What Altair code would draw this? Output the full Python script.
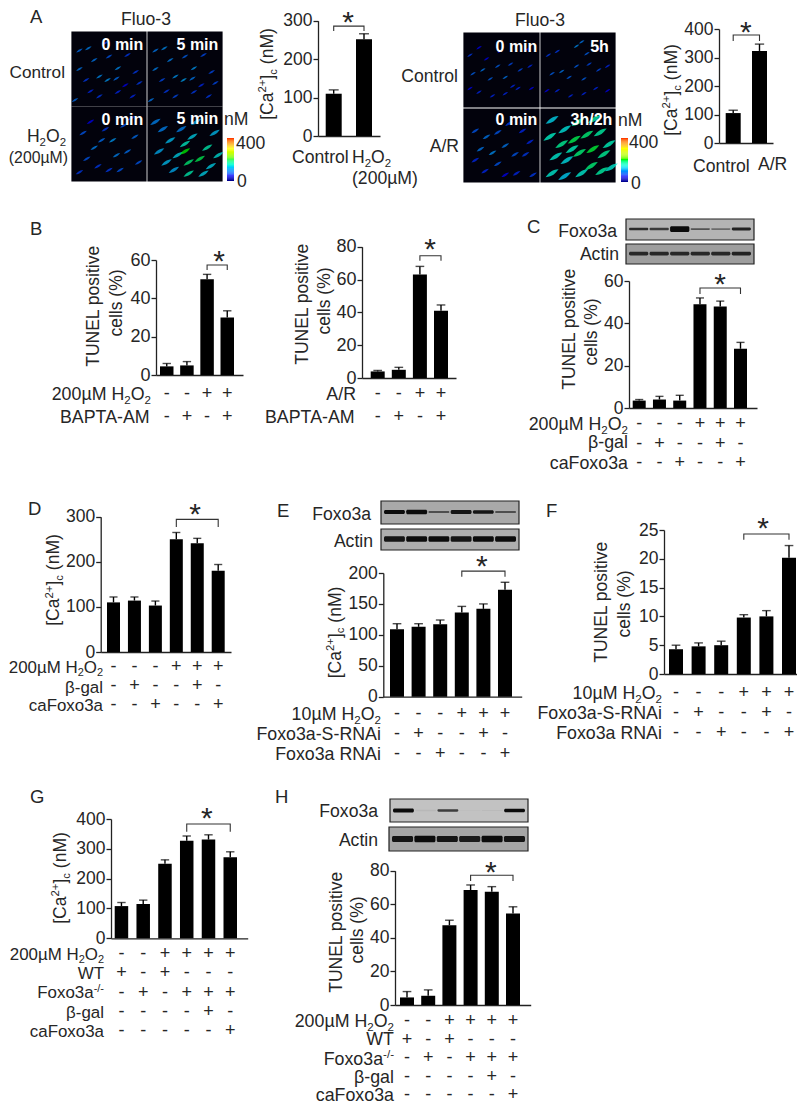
import altair as alt
import pandas as pd

H = 1096
FONT = "Liberation Sans"
INK = "#262626"

# ---------------- data ----------------
A1_vals, A1_errs = [110, 252], [120, 266]
A2_vals, A2_errs = [105, 323], [115, 347]
B1_vals, B1_errs = [4.5, 5, 50, 30], [6, 7, 52.5, 33.5]
B2_vals, B2_errs = [4, 5, 63, 41], [4.6, 6.5, 68, 44.5]
C_vals, C_errs = [3.5, 4, 3.5, 49, 48, 28], [4, 5.5, 6, 52, 50.5, 31]
D_vals, D_errs = [110, 114, 103, 250, 241, 180], [122, 122, 113, 265, 252, 194]
E_vals, E_errs = [109, 113, 117, 136, 142, 173], [118, 118, 124, 146, 150, 185]
F_vals, F_errs = [4.3, 4.8, 5, 9.8, 10, 20.2], [5, 5.4, 5.7, 10.3, 11, 22.3]
G_vals, G_errs = [108, 115, 250, 327, 331, 272], [120, 128, 263, 343, 347, 290]
H_vals, H_errs = [4.5, 5.5, 47.5, 68.5, 67.5, 54.5], [8, 9, 50.5, 71.5, 70.5, 58.5]

H2O2_200 = [("200µM H", "n"), ("2", "sub"), ("O", "n"), ("2", "sub")]
H2O2_10 = [("10µM H", "n"), ("2", "sub"), ("O", "n"), ("2", "sub")]
KO = [("Foxo3a", "n"), ("-/-", "sup")]
CA = [("[Ca", "n"), ("2+", "sup"), ("]", "n"), ("c", "sub"), (" (nM)", "n")]

# fluorescence of cells: (x %, y %, nM)
ctrl_0 = [(10,25,80),(22,22,90),(30,38,85),(50,33,70),(10,50,85),(37,60,95),(48,65,100),(62,49,95),(60,63,80),(19,65,60),(37,87,60),(4,92,80),(82,87,55),(86,54,60),(75,31,60),(91,69,60),(62,81,55),(45,15,60),(72,72,50),(25,80,55)]
ctrl_5 = [(10,25,85),(22,22,95),(30,38,90),(50,33,75),(10,50,90),(37,60,100),(48,65,105),(62,49,100),(60,63,85),(19,65,65),(37,87,65),(4,92,85),(82,87,60),(86,54,65),(75,31,65),(91,69,65),(62,81,60),(45,15,65),(72,72,55),(25,80,60)]
h2o2_0 = [(15,35,70),(30,55,90),(20,70,70),(45,30,60),(55,45,100),(60,65,90),(70,25,70),(85,40,80),(35,80,60),(10,88,60),(50,85,60),(75,60,80),(90,75,70),(40,45,80),(65,85,70),(25,20,50),(80,15,60)]
h2o2_5 = [(20,30,90),(15,60,110),(30,45,120),(40,65,130),(50,50,150),(55,75,180),(60,40,130),(70,70,190),(80,55,160),(90,35,120),(35,85,110),(75,90,130),(25,75,120),(85,80,130),(45,30,90),(65,20,110),(95,65,140),(10,20,90),(55,90,160),(50,60,200)]
ar_c0 = [(8,30,60),(20,20,50),(12,55,75),(25,50,85),(35,62,75),(45,45,75),(55,60,85),(62,42,65),(75,50,65),(88,45,55),(20,80,55),(38,85,55),(55,82,55),(72,75,55),(90,75,50),(30,35,50),(48,25,40),(85,22,40),(65,72,55),(8,75,50)]
ar_c5 = [(10,30,60),(22,25,60),(15,55,75),(28,52,85),(38,60,75),(48,45,75),(58,62,75),(65,42,65),(78,50,65),(90,45,55),(22,78,55),(40,85,55),(58,82,55),(74,75,55),(90,78,50),(48,18,95),(55,12,85),(62,28,75),(78,22,55),(8,78,50)]
ar_t0 = [(15,30,70),(30,38,85),(45,32,70),(60,20,60),(78,30,55),(88,45,55),(22,55,85),(38,60,95),(55,50,85),(68,62,70),(82,62,60),(45,75,70),(15,70,55),(28,85,55),(92,90,60),(70,88,55),(55,90,50)]
ar_t5 = [(15,15,130),(32,28,140),(50,18,170),(72,14,160),(12,38,150),(28,48,170),(45,42,190),(62,35,180),(80,32,165),(92,48,155),(20,65,145),(35,70,135),(52,60,180),(70,55,195),(85,62,170),(15,88,145),(32,92,125),(68,78,180),(82,85,165),(95,80,145),(55,88,145),(42,55,155)]

colorbar_steps = list(range(0, 400, 10))
fluo_colors = ["#000090", "#0000ff", "#00a0ff", "#00ffd0", "#00ff00", "#c0ff00", "#ffff00", "#ff9000", "#ff0000"]

# western blot lanes: darkness 0-1 and band thickness in % of box height
C_foxo_dark, C_foxo_thick = [.8,.7,1,.55,.4,.85], [12,12,28,9,9,14]
C_actin_dark, C_actin_thick = [.8,.8,.8,.8,.8,.85], [18,18,18,18,18,18]
E_foxo_dark, E_foxo_thick = [1,1,.55,.95,.95,.55], [18,20,9,17,15,9]
E_actin_dark, E_actin_thick = [.95,1,1,.95,1,1], [26,26,26,26,26,26]
H_foxo_dark, H_foxo_thick = [1,.05,.7,.02,.04,1], [17,6,10,4,4,16]
H_actin_dark, H_actin_thick = [.95,1,.95,.9,1,.95], [24,28,26,24,28,26]

SPINDLE = "M -1 0.6 C -0.45 -0.1 -0.1 -0.5 1 -0.6 C 0.45 0.1 0.1 0.5 -1 0.6 Z"

# ---------------- text helpers ----------------
W = {' ':278,'A':667,'B':667,'C':722,'E':667,'F':611,'G':778,'H':722,'I':278,'L':556,'M':833,'N':722,'O':778,'P':667,'R':722,'S':667,'T':611,'U':722,'W':944,
     'a':556,'c':500,'e':556,'f':278,'g':556,'h':556,'i':222,'l':222,'m':833,'n':556,'o':556,'p':556,'r':333,'s':500,'t':278,'v':500,'x':500,
     'µ':576,'β':576,'-':333,'+':584,'/':278,'(':333,')':333,'[':278,']':278,'%':889}
def tw(s, size):
    return sum(W.get(c, 556) for c in s) * size / 1000

texts, bold_texts = [], []

def put(s, x, y, size=17, angle=0, color=INK, bold=False):
    (bold_texts if bold else texts).append(dict(t=s, x=x - 8, y=y - 8, s=size, a=angle, c=color))

def rich(parts, x, y, anchor="left", size=17.6, angle=0):
    """x,y in image pixels: the baseline anchor of a run of text."""
    if isinstance(parts, str):
        parts = [(parts, "n")]
    widths = []
    for s, k in parts:
        widths.append(tw(s, size * (0.65 if k != "n" else 1)))
    total = sum(widths)
    adv = {"left": 0, "center": -total / 2, "right": -total}[anchor]
    for (s, k), w in zip(parts, widths):
        fs = size * (0.65 if k != "n" else 1)
        dy = {"n": 0, "sub": 0.2 * size, "sup": -0.38 * size}[k]
        lead = tw(s[:len(s) - len(s.lstrip())], fs)
        a = adv + lead
        if angle == 270:
            put(s.strip(), x + dy, y - a, fs, 270)
        else:
            put(s.strip(), x + a, y + dy, fs, 0)
        adv += w

frames = []
def frame(x0, x1, y0, y1, fill, stroke="#222222"):
    frames.append(dict(x=x0 - 8, x2=x1 - 8, y=y0 - 8, y2=y1 - 8, f=fill, st=stroke))

# ---------------- panels ----------------
def bar_panel(vals, errs, x0, xend, b0, b1, w, y0, ytop, ymax, ticks, bracket, rows=None, row_right=None, tick_size=17.5, row_size=17.8):
    n = len(vals)
    cats = [str(i) for i in range(n)]
    step = (b1 - b0 - w) / (n - 1)
    gap = (xend - x0) - (b1 - b0)
    xs = alt.Scale(type="band", domain=cats, range=[x0 - 8, xend - 8],
                   paddingInner=1 - w / step, paddingOuter=gap / (2 * step), align=(b0 - x0) / gap)
    ys = alt.Scale(domain=[0, ymax], range=[y0 - 8, ytop - 8], nice=False, zero=True)
    df = pd.DataFrame(dict(cat=cats, v=vals, e=errs))
    xaxis = alt.Axis(orient="bottom", offset=-(H - (y0 - 8)), labels=False, ticks=False, title=None, grid=False,
                     domainColor="#222222", domainWidth=1.3)
    yaxis = alt.Axis(orient="left", offset=-(x0 - 8), values=ticks, grid=False, title=None, format="d",
                     labelFont=FONT, labelFontSize=tick_size, labelColor=INK, labelPadding=1,
                     tickSize=5, tickColor="#222222", tickWidth=1.3, domainColor="#222222", domainWidth=1.3)
    xa = alt.X("cat:N", scale=xs, axis=xaxis, title=None)
    ya = alt.Y("v:Q", scale=ys, axis=yaxis, title=None)
    bars = alt.Chart(df).mark_bar(color="black").encode(x=xa, y=ya)
    stems = alt.Chart(df).mark_rule(color="black", strokeWidth=1.4).encode(x=xa, y=ya, y2="e:Q")
    caps = alt.Chart(df).mark_tick(color="black", size=w * 0.62, thickness=1.4).encode(
        x=xa, y=alt.Y("e:Q", scale=ys, axis=yaxis, title=None))
    i, j, top, drop = bracket
    bdf = pd.DataFrame(dict(cat=[cats[i], cats[i], cats[j], cats[j]], v=[drop, top, top, drop], o=[0, 1, 2, 3]))
    br = alt.Chart(bdf).mark_line(color="#333333", strokeWidth=1.1).encode(x=xa, y=ya, order="o:Q")
    inner = alt.layer(bars, stems, caps, br)
    if not rows:
        return inner
    ylist = [r[1] for r in rows]
    names = [str(k) for k in range(len(rows))]
    sdf = pd.DataFrame([dict(cat=cats[c], row=names[k], t=ch)
                        for k, r in enumerate(rows) for c, ch in enumerate(r[2])])
    for r in rows:
        rich(r[0], row_right, r[1] + 6, "right", row_size)
    signs = alt.Chart(sdf).mark_text(font=FONT, fontSize=18, color=INK, baseline="middle").encode(
        x=xa,
        y=alt.Y("row:O", axis=None, title=None,
                scale=alt.Scale(type="point", domain=names, range=[ylist[0] - 8, ylist[-1] - 8], padding=0)),
        text="t:N")
    return alt.layer(inner, signs).resolve_scale(y="independent")


def image_panel(cells, x0, x1, y0, y1, size, opacity=0.7):
    frame(x0, x1, y0, y1, "#02020c", "#02020c")
    df = pd.DataFrame(cells, columns=["x", "y", "v"])
    return alt.Chart(df).mark_point(filled=True, size=size, opacity=opacity, strokeWidth=0, shape=SPINDLE).encode(
        x=alt.X("x:Q", axis=None, scale=alt.Scale(domain=[0, 100], range=[x0 - 8, x1 - 8], nice=False)),
        y=alt.Y("y:Q", axis=None, scale=alt.Scale(domain=[0, 100], range=[y0 - 8, y1 - 8], nice=False)),
        color=alt.Color("v:Q", legend=None, scale=alt.Scale(domain=[0, 400], range=fluo_colors)),
    )


def colorbar(x0, x1, y0, y1):
    df = pd.DataFrame(dict(lo=colorbar_steps, hi=[c + 10 for c in colorbar_steps]))
    ys = alt.Scale(domain=[0, 400], range=[y0 - 8, y1 - 8], nice=False)
    return alt.Chart(df).mark_rect().encode(
        x=alt.value(x0 - 8), x2=alt.value(x1 - 8),
        y=alt.Y("lo:Q", axis=None, scale=ys), y2="hi:Q",
        color=alt.Color("lo:Q", legend=None, scale=alt.Scale(domain=[0, 400], range=fluo_colors)),
    )


def blot(dark, thick, x0, x1, y0, y1, fill, center=48):
    frame(x0, x1, y0, y1, fill)
    lanes = [str(i) for i in range(6)]
    df = pd.DataFrame(dict(l=lanes, d=dark, a=[center - t / 2 for t in thick], b=[center + t / 2 for t in thick]))
    return alt.Chart(df).mark_rect(cornerRadius=1.5).encode(
        x=alt.X("l:N", axis=None, scale=alt.Scale(type="band", domain=lanes, range=[x0 - 8 + 3, x1 - 8 - 3], paddingInner=0.06, paddingOuter=0)),
        y=alt.Y("a:Q", axis=None, scale=alt.Scale(domain=[0, 100], range=[y0 - 8, y1 - 8], nice=False)),
        y2="b:Q",
        color=alt.Color("d:Q", legend=None, scale=alt.Scale(domain=[0, 1], range=[fill, "#0c0c0c"])),
    )


panels = []
# A
panels += [image_panel(ctrl_0, 72, 146, 32, 106, 45), image_panel(ctrl_5, 148, 222, 32, 106, 45),
           image_panel(h2o2_0, 72, 146, 107, 181, 55), image_panel(h2o2_5, 148, 222, 107, 181, 110),
           image_panel(ar_c0, 464, 539, 33, 107, 32), image_panel(ar_c5, 541, 615, 33, 107, 32),
           image_panel(ar_t0, 464, 539, 109, 182, 60), image_panel(ar_t5, 541, 615, 109, 182, 170, 0.75),
           colorbar(227, 234, 181, 138), colorbar(621, 628, 182, 138)]
panels.append(bar_panel(A1_vals, A1_errs, 318, 380, 325.7, 372, 16, 136, 20.7, 300, [0, 100, 200, 300], (0, 1, 286, 273)))
panels.append(bar_panel(A2_vals, A2_errs, 719, 773, 725.7, 767, 15, 143, 29, 400, [0, 100, 200, 300, 400], (0, 1, 379, 358)))
# B
panels.append(bar_panel(B1_vals, B1_errs, 156, 243, 160, 234, 13.5, 375, 260, 60, [0, 20, 40, 60], (2, 3, 57.4, 54.8),
    [(H2O2_200, 394, "--++"), ("BAPTA-AM", 417, "-+-+")], 151, 18))
panels.append(bar_panel(B2_vals, B2_errs, 362, 456, 370.7, 448, 14, 378, 246.7, 80, [0, 20, 40, 60, 80], (2, 3, 74.5, 71.5),
    [("A/R", 394, "--++"), ("BAPTA-AM", 417, "-+-+")], 356, 18))
# C
panels.append(blot(C_foxo_dark, C_foxo_thick, 626, 754, 219, 240, "#b4b4b4"))
panels.append(blot(C_actin_dark, C_actin_thick, 626, 754, 244, 264, "#9e9e9e"))
panels.append(bar_panel(C_vals, C_errs, 629, 757, 632.7, 747, 13, 408, 281, 60, [0, 20, 40, 60], (3, 5, 56.7, 53.9),
    [(H2O2_200, 424, "---+++"), ("β-gal", 442, "-+--+-"), ("caFoxo3a", 463, "--+--+")], 628))
# D
panels.append(bar_panel(D_vals, D_errs, 100.7, 231, 107, 224.7, 13, 652, 516.7, 300, [0, 100, 200, 300], (3, 5, 294, 277),
    [(H2O2_200, 667, "---+++"), ("β-gal", 687, "-+--+-"), ("caFoxo3a", 705, "--+--+")], 103, 17.5, 16.9))
# E
panels.append(blot(E_foxo_dark, E_foxo_thick, 381, 519, 501, 524, "#a9a9a9"))
panels.append(blot(E_actin_dark, E_actin_thick, 381, 519, 529, 550, "#aeaeae"))
panels.append(bar_panel(E_vals, E_errs, 383.3, 521.7, 390, 512, 14, 696.7, 573, 200, [0, 50, 100, 150, 200], (3, 5, 203, 194),
    [(H2O2_10, 714, "---+++"), ("Foxo3a-S-RNAi", 734, "-+--+-"), ("Foxo3a RNAi", 754, "--+--+")], 381))
# F
panels.append(bar_panel(F_vals, F_errs, 664, 797, 669, 796, 14, 674, 530, 25, [0, 5, 10, 15, 20, 25], (3, 5, 24.3, 23.3),
    [(H2O2_10, 693, "---+++"), ("Foxo3a-S-RNAi", 713, "-+--+-"), ("Foxo3a RNAi", 733, "--+--+")], 662))
# G
panels.append(bar_panel(G_vals, G_errs, 111, 247.7, 114.7, 237, 13.5, 938.3, 819, 400, [0, 100, 200, 300, 400], (3, 5, 383, 357),
    [(H2O2_200, 954, "--++++"), ("WT", 973, "+-+---"), (KO, 992, "-+-+++"), ("β-gal", 1012, "----+-"), ("caFoxo3a", 1031, "-----+")], 104, 17.5, 16.9))
# H
panels.append(blot(H_foxo_dark, H_foxo_thick, 390, 528, 799, 822, "#c2c2c2", 50))
panels.append(blot(H_actin_dark, H_actin_thick, 389, 528, 827, 851, "#a6a6a6", 50))
panels.append(bar_panel(H_vals, H_errs, 395, 530.7, 400, 520, 14, 1005, 870.7, 80, [0, 20, 40, 60, 80], (3, 5, 77.3, 73.9),
    [(H2O2_200, 1021, "--++++"), ("WT", 1039, "+-+---"), (KO, 1059, "-+-+++"), ("β-gal", 1077, "----+-"), ("caFoxo3a", 1095, "-----+")], 394))

# ---------------- annotation text ----------------
for s, x, y in [("A", 30, 23), ("B", 30, 235), ("C", 527, 233), ("D", 28, 515), ("E", 277, 517), ("F", 546, 517), ("G", 30, 803), ("H", 275, 803)]:
    put(s, x, y, 18.5)
for x, y in [(348, 26), (745.7, 36), (219, 265), (430, 253), (720, 288), (195, 518), (481.7, 570), (763, 532), (206.7, 822), (490.7, 876)]:
    put("*", x - 5.8, y + 6, 30)

rich("Fluo-3", 146, 25, "center")
rich("Fluo-3", 540, 26, "center")
rich("Control", 65, 78, "right", 17.2)
rich([("H", "n"), ("2", "sub"), ("O", "n"), ("2", "sub")], 66, 142, "right")
rich("(200µM)", 68, 163, "right", 15.8)
rich("Control", 458, 82, "right")
rich("A/R", 459, 152, "right")
rich("nM", 224, 125); rich("400", 236, 149); rich("0", 237, 187)
rich("nM", 618, 126); rich("400", 629, 148); rich("0", 631, 189)
rich("Control", 292, 163)
rich([("H", "n"), ("2", "sub"), ("O", "n"), ("2", "sub")], 352, 163)
rich("(200µM)", 352, 184)
rich("Control", 693, 172)
rich("A/R", 758, 170)
rich("Foxo3a", 617, 237, "right"); rich("Actin", 619, 260, "right")
rich("Foxo3a", 371, 520, "right"); rich("Actin", 373, 547, "right")
rich("Foxo3a", 378, 817, "right"); rich("Actin", 378, 846, "right")

for x, y in [(273, 74), (677, 90), (59.3, 580), (340.7, 632.5), (66, 878)]:
    rich(CA, x, y, "center", 17.5, 270)
for x1, y1, x2, y2 in [(99, 306, 121.7, 303), (307.7, 304, 330, 301), (575, 329, 597, 332), (606.7, 602, 630, 604), (342, 932, 363.3, 930)]:
    rich("TUNEL positive", x1, y1, "center", 17.5, 270)
    rich("cells (%)", x2, y2, "center", 17.5, 270)

for s, xr, y in [("0 min", 143, 50), ("5 min", 218, 50), ("0 min", 143, 125), ("5 min", 218, 124),
                 ("0 min", 537, 52), ("5h", 609, 52), ("0 min", 537, 125), ("3h/2h", 613, 125)]:
    put(s, xr - tw(s, 16) * 1.06, y, 16, 0, "white", True)

# ---------------- assemble ----------------
frame_layer = alt.Chart(pd.DataFrame(frames)).mark_rect(strokeWidth=1.2).encode(
    x=alt.X("x:Q", scale=None, axis=None), x2="x2:Q",
    y=alt.Y("y:Q", scale=None, axis=None), y2="y2:Q",
    fill=alt.Fill("f:N", scale=None), stroke=alt.Stroke("st:N", scale=None))

def text_layer(rows, weight):
    return alt.Chart(pd.DataFrame(rows)).mark_text(font=FONT, fontWeight=weight, align="left", baseline="alphabetic").encode(
        x=alt.X("x:Q", scale=None, axis=None), y=alt.Y("y:Q", scale=None, axis=None),
        text="t:N", size=alt.Size("s:Q", scale=None), angle=alt.Angle("a:Q", scale=None),
        color=alt.Color("c:N", scale=None))

chart = alt.layer(frame_layer, *panels, text_layer(texts, "normal"), text_layer(bold_texts, "bold")).resolve_scale(
    x="independent", y="independent", color="independent"
).resolve_axis(x="independent", y="independent").properties(
    width=789, height=H, padding=0, autosize="none", background="white").configure_view(strokeWidth=0)

chart.save("out.html", embed_options={"renderer": "svg", "actions": False})
